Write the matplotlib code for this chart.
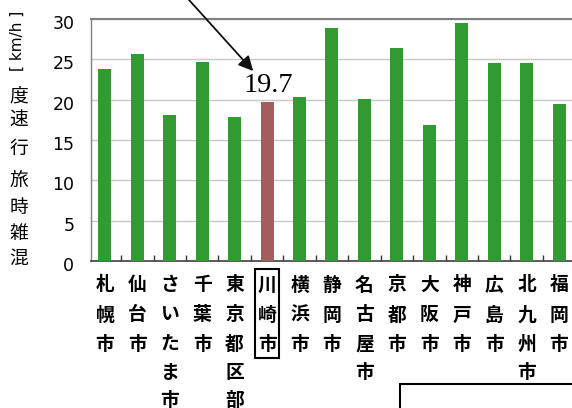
import matplotlib
matplotlib.use("Agg")
import matplotlib.pyplot as plt
import matplotlib.transforms as mtransforms
from matplotlib.patches import Rectangle

cities = ['札幌市', '仙台市', 'さいたま市', '千葉市', '東京都区部', '川崎市', '横浜市',
          '静岡市', '名古屋市', '京都市', '大阪市', '神戸市', '広島市', '北九州市', '福岡市']
speeds = [23.8, 25.7, 18.1, 24.7, 17.8, 19.7, 20.3, 28.9, 20.1, 26.4, 16.9, 29.5, 24.5, 24.5, 19.5]
highlight = '川崎市'
yticks = [0, 5, 10, 15, 20, 25, 30]
ylabel_kanji = '混雑時旅行速度'
ylabel_unit = '[ km/h ]'

CJK = ['Noto Sans CJK JP', 'DejaVu Sans']
W, H = 572, 408
fig = plt.figure(figsize=(W / 100, H / 100), dpi=100)

L, R, T, B = 91, 572, 19, 261
ax = fig.add_axes([L / W, 1 - B / H, (R - L) / W, (B - T) / H])

green = '#319a31'
rose = '#a35d5d'
colors = [rose if c == highlight else green for c in cities]
x = list(range(len(cities)))
ax.bar(x, speeds, width=0.40, color=colors, zorder=3)

ax.set_xlim(-0.43, 14.4)
ax.set_ylim(0, 30)
ax.set_yticks(yticks)
ax.set_yticklabels([str(v) for v in yticks], family=['Liberation Sans Narrow', 'DejaVu Sans'], fontsize=12.5)
ax.tick_params(axis='y', length=0, pad=12)
off = mtransforms.ScaledTranslation(0, -3 / 100, fig.dpi_scale_trans)
for lab in ax.get_yticklabels():
    lab.set_transform(lab.get_transform() + off)

ax.set_xticks([i + 0.5 for i in range(len(cities) - 1)])
ax.set_xticklabels([])
ax.tick_params(axis='x', direction='in', length=4, width=1, color='#333333')

ax.grid(axis='y', color='#c8c8c8', linewidth=1, zorder=0)
ax.set_axisbelow(True)
ax.spines['right'].set_visible(False)
ax.spines['top'].set_color('#808080')
ax.spines['top'].set_linewidth(1.5)
ax.spines['left'].set_color('#808080')
ax.spines['left'].set_linewidth(1.0)
ax.spines['bottom'].set_color('#404040')
ax.spines['bottom'].set_linewidth(1.2)

# city labels, vertical stacked characters
row_y = [285, 315, 344, 372, 400]
btrans = mtransforms.blended_transform_factory(ax.transData, fig.transFigure)
for i, name in enumerate(cities):
    for j, ch in enumerate(name):
        fig.text(i, 1 - row_y[j] / H, ch, transform=btrans, ha='center', va='center',
                 family=CJK, fontsize=13.5, fontweight='bold')

# box around highlighted city
hi = cities.index(highlight)
fig.add_artist(Rectangle((hi - 0.37, 1 - 358 / H), 0.74, (358 - 269) / H, transform=btrans,
                         fill=False, edgecolor='black', linewidth=1.5, clip_on=False))

# value annotation with arrow
ax.annotate('', xy=(hi - 0.43, 23.55), xytext=(hi - 3.0, 35.0),
            arrowprops=dict(arrowstyle='-|>', color='#111111', lw=1.3, mutation_scale=22,
                            shrinkA=0, shrinkB=0),
            annotation_clip=False)
ax.text(hi + 0.03, 21.8, f'{speeds[hi]}', ha='center', va='center',
        family=['Liberation Serif', 'DejaVu Serif'], fontsize=20.5, color='black')

# y label: upright kanji + rotated unit
kanji_y = [258, 233, 208, 180, 148, 120, 97]
for ch, yy in zip(ylabel_kanji, kanji_y):
    fig.text(19 / W, 1 - yy / H, ch, ha='center', va='center', family=CJK, fontsize=13.5)
fig.text(17 / W, 1 - 41 / H, ylabel_unit, ha='center', va='center', rotation=90,
         family=['DejaVu Sans'], fontsize=11)

# partial box at bottom right
fig.add_artist(Rectangle((400 / W, -0.05), 0.5, 0.05 + 1 - 384 / H, transform=fig.transFigure,
                         fill=False, edgecolor='black', linewidth=1.5, clip_on=False))

fig.savefig('out.png', dpi=100)
